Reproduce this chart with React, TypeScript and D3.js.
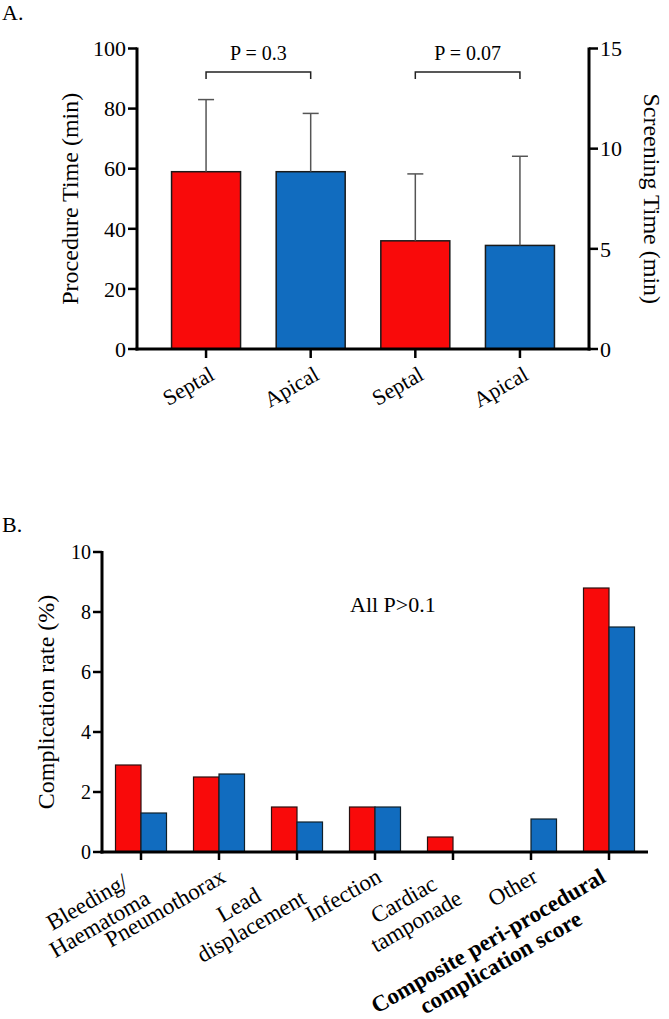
import React, { useEffect, useRef } from "react";
import * as d3 from "d3";

const FONT = "'Liberation Serif', 'Times New Roman', Times, serif";
const RED = "#f90a0a";
const BLUE = "#116cbf";

// ---------- Panel A data ----------
const groupsA = ["Septal", "Apical", "Septal", "Apical"];
const procedureMean = [59, 59];
const procedureSD = [24, 19.4];
const screeningMean = [5.4, 5.17];
const screeningSD = [3.34, 4.45];
const procTicks = [0, 20, 40, 60, 80, 100];
const screenTicks = [0, 5, 10, 15];
const pLabels = ["P = 0.3", "P = 0.07"];

// ---------- Panel B data ----------
const compCategories = [
  ["Bleeding/", "Haematoma"],
  ["Pneumothorax"],
  ["Lead", "displacement"],
  ["Infection"],
  ["Cardiac", "tamponade"],
  ["Other"],
  ["Composite peri-procedural", "complication score"],
];
const compBold = [false, false, false, false, false, false, true];
const septalRates = [2.9, 2.5, 1.5, 1.5, 0.5, 0, 8.8];
const apicalRates = [1.3, 2.6, 1.0, 1.5, 0, 1.1, 7.5];
const rateTicks = [0, 2, 4, 6, 8, 10];

export default function App() {
  const ref = useRef<SVGSVGElement>(null);

  useEffect(() => {
    const svg = d3.select(ref.current);
    svg.selectAll("*").remove();
    svg.append("rect").attr("width", 669).attr("height", 1019).attr("fill", "#fff");

    // ================= PANEL A =================
    const gA = svg.append("g");
    gA.append("text").attr("x", 2).attr("y", 20).attr("font-size", 22).text("A.");

    const x0 = 137, x1 = 589, yBase = 349, yTop = 48.5;
    const xA = d3.scalePoint<number>().domain(d3.range(groupsA.length)).range([x0, x1]).padding(0.66);
    const yL = d3.scaleLinear().domain([0, 100]).range([yBase, yTop]);
    const yR = d3.scaleLinear().domain([0, 15]).range([yBase, yTop]);
    const barWA = 69;

    const barsA = groupsA.map((g, i) => {
      const isProc = i < 2;
      const mean = isProc ? procedureMean[i] : screeningMean[i - 2];
      const sd = isProc ? procedureSD[i] : screeningSD[i - 2];
      const sc = isProc ? yL : yR;
      return { i, mean, sd, sc, color: g === "Septal" ? RED : BLUE };
    });

    gA.selectAll("rect.bar")
      .data(barsA)
      .join("rect")
      .attr("x", (d) => (xA(d.i) as number) - barWA / 2)
      .attr("width", barWA)
      .attr("y", (d) => d.sc(d.mean))
      .attr("height", (d) => yBase - d.sc(d.mean))
      .attr("fill", (d) => d.color)
      .attr("stroke", "#1a1a1a")
      .attr("stroke-width", 1.5);

    // error bars (upper)
    barsA.forEach((d) => {
      const cx = xA(d.i) as number;
      const yt = d.sc(d.mean + d.sd);
      gA.append("line").attr("x1", cx).attr("x2", cx).attr("y1", d.sc(d.mean)).attr("y2", yt)
        .attr("stroke", "#555").attr("stroke-width", 1.5);
      gA.append("line").attr("x1", cx - 8).attr("x2", cx + 8).attr("y1", yt).attr("y2", yt)
        .attr("stroke", "#555").attr("stroke-width", 1.5);
    });

    // axes
    const axA = gA.append("g").attr("stroke", "#000");
    axA.append("line").attr("x1", x0).attr("x2", x0).attr("y1", yTop - 1).attr("y2", yBase + 1.5).attr("stroke-width", 3);
    axA.append("line").attr("x1", x1).attr("x2", x1).attr("y1", yTop - 1).attr("y2", yBase + 1.5).attr("stroke-width", 3);
    axA.append("line").attr("x1", x0 - 1.5).attr("x2", x1 + 1.5).attr("y1", yBase).attr("y2", yBase).attr("stroke-width", 3);

    procTicks.forEach((t) => {
      axA.append("line").attr("x1", x0 - 9).attr("x2", x0).attr("y1", yL(t)).attr("y2", yL(t)).attr("stroke-width", 2.5);
      gA.append("text").attr("x", x0 - 11).attr("y", yL(t)).attr("dy", "0.35em")
        .attr("text-anchor", "end").attr("font-size", 22).text(String(t));
    });
    screenTicks.forEach((t) => {
      axA.append("line").attr("x1", x1).attr("x2", x1 + 9).attr("y1", yR(t)).attr("y2", yR(t)).attr("stroke-width", 2.5);
      gA.append("text").attr("x", x1 + 11).attr("y", yR(t)).attr("dy", "0.35em")
        .attr("text-anchor", "start").attr("font-size", 22).text(String(t));
    });
    groupsA.forEach((g, i) => {
      const cx = xA(i) as number;
      axA.append("line").attr("x1", cx).attr("x2", cx).attr("y1", yBase).attr("y2", yBase + 9).attr("stroke-width", 2.5);
      gA.append("text")
        .attr("transform", `translate(${cx + 6},${yBase + 23}) rotate(-30)`)
        .attr("dy", "0.35em").attr("text-anchor", "end").attr("font-size", 22).text(g);
    });

    gA.append("text").attr("transform", `translate(70,${(yBase + yTop) / 2}) rotate(-90)`)
      .attr("dy", "0.35em").attr("text-anchor", "middle").attr("font-size", 24).text("Procedure Time (min)");
    gA.append("text").attr("transform", `translate(652,${(yBase + yTop) / 2}) rotate(90)`)
      .attr("dy", "0.35em").attr("text-anchor", "middle").attr("font-size", 24).text("Screening Time (min)");

    // significance brackets
    pLabels.forEach((p, k) => {
      const a = xA(k * 2) as number;
      const b = xA(k * 2 + 1) as number;
      gA.append("path").attr("d", `M${a},79 V72 H${b} V79`).attr("fill", "none")
        .attr("stroke", "#222").attr("stroke-width", 1.5);
      gA.append("text").attr("x", (a + b) / 2).attr("y", 60).attr("text-anchor", "middle")
        .attr("font-size", 20).text(p);
    });

    // ================= PANEL B =================
    const gB = svg.append("g");
    gB.append("text").attr("x", 2).attr("y", 532).attr("font-size", 22).text("B.");

    const bx0 = 102, bx1 = 648, bBase = 852, bTop = 552;
    const xB = d3.scaleBand<number>().domain(d3.range(compCategories.length)).range([bx0, bx1]).padding(0);
    const yB = d3.scaleLinear().domain([0, 10]).range([bBase, bTop]);
    const barWB = 25.5;

    const rowsB = compCategories.map((c, i) => ({ i, s: septalRates[i], a: apicalRates[i] }));
    const cxB = (i: number) => (xB(i) as number) + xB.bandwidth() / 2;

    gB.selectAll("rect.sep")
      .data(rowsB.filter((d) => d.s > 0))
      .join("rect")
      .attr("x", (d) => cxB(d.i) - barWB)
      .attr("width", barWB)
      .attr("y", (d) => yB(d.s))
      .attr("height", (d) => bBase - yB(d.s))
      .attr("fill", RED).attr("stroke", "#2a1010").attr("stroke-width", 1.2);
    gB.selectAll("rect.api")
      .data(rowsB.filter((d) => d.a > 0))
      .join("rect")
      .attr("x", (d) => cxB(d.i))
      .attr("width", barWB)
      .attr("y", (d) => yB(d.a))
      .attr("height", (d) => bBase - yB(d.a))
      .attr("fill", BLUE).attr("stroke", "#10202a").attr("stroke-width", 1.2);

    const axB = gB.append("g").attr("stroke", "#000");
    axB.append("line").attr("x1", bx0).attr("x2", bx0).attr("y1", bTop - 1).attr("y2", bBase + 1.5).attr("stroke-width", 3);
    axB.append("line").attr("x1", bx0 - 1.5).attr("x2", bx1).attr("y1", bBase).attr("y2", bBase).attr("stroke-width", 3);
    rateTicks.forEach((t) => {
      axB.append("line").attr("x1", bx0 - 9).attr("x2", bx0).attr("y1", yB(t)).attr("y2", yB(t)).attr("stroke-width", 2.5);
      gB.append("text").attr("x", bx0 - 11).attr("y", yB(t)).attr("dy", "0.35em")
        .attr("text-anchor", "end").attr("font-size", 20).text(String(t));
    });

    compCategories.forEach((lines, i) => {
      const cx = cxB(i);
      axB.append("line").attr("x1", cx).attr("x2", cx).attr("y1", bBase).attr("y2", bBase + 8).attr("stroke-width", 2.5);
      const n = lines.length;
      const g = gB.append("g")
        .attr("transform", `translate(${cx + 4 - 10 * (n - 1)},${bBase + 22}) rotate(-30)`);
      const texts = lines.map((ln, k) =>
        g.append("text").attr("y", k * 25).attr("dy", "0.35em").attr("text-anchor", "middle")
          .attr("font-size", 23).attr("font-weight", compBold[i] ? "bold" : "normal").text(ln)
      );
      const W = d3.max(texts, (t) => (t.node() as SVGTextElement).getComputedTextLength()) || 0;
      texts.forEach((t) => t.attr("x", -W / 2));
    });

    gB.append("text").attr("transform", `translate(46,${(bBase + bTop) / 2}) rotate(-90)`)
      .attr("dy", "0.35em").attr("text-anchor", "middle").attr("font-size", 24).text("Complication rate (%)");
    gB.append("text").attr("x", 350).attr("y", 612).attr("font-size", 22).text("All P>0.1");
  }, []);

  return (
    <svg
      ref={ref}
      width={669}
      height={1019}
      fontFamily={FONT}
      style={{ position: "absolute", left: 0, top: 0, display: "block" }}
    />
  );
}
